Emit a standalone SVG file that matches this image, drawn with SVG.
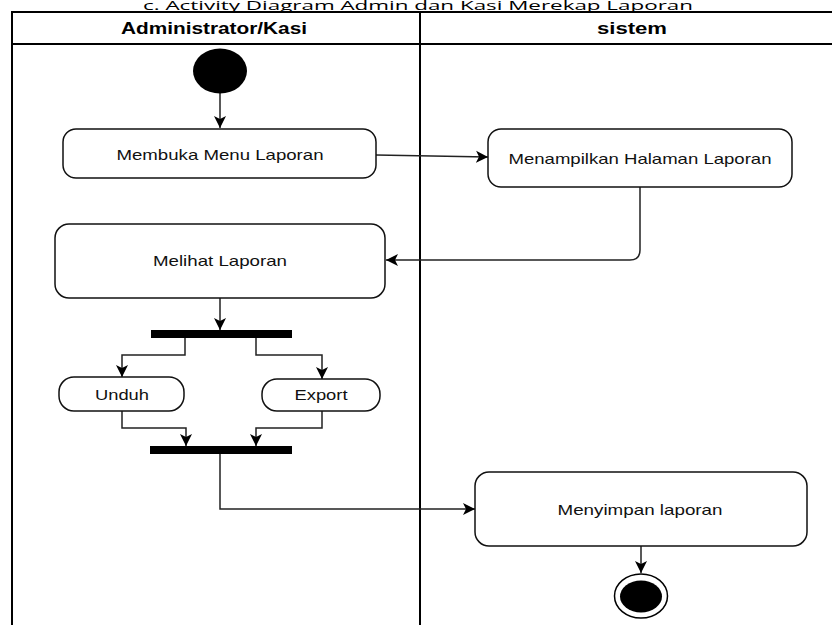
<svg xmlns="http://www.w3.org/2000/svg" width="832" height="625" viewBox="0 0 832 625">
<style>
.lane{stroke:#000;stroke-width:2;fill:none}
.node{fill:#fff;stroke:#111;stroke-width:1.5}
.lbl{font-family:"Liberation Sans",Arial,sans-serif;font-size:15px;fill:#111;text-anchor:middle}
.hdr{font-family:"Liberation Sans",Arial,sans-serif;font-size:16px;font-weight:bold;fill:#000;text-anchor:middle}
.edge{fill:none;stroke:#222;stroke-width:1.5}
.bar{fill:#000}
</style>
<defs>
<marker id="arr" markerUnits="userSpaceOnUse" markerWidth="13" markerHeight="13" viewBox="0 0 13 13" refX="12" refY="6.5" orient="auto">
<path d="M0,0.5 L12,6.5 L0,12.5 L3,6.5 z" fill="#000"/>
</marker>
</defs>
<rect width="832" height="625" fill="#fff"/>
<text x="418" y="10" font-family="'Open Sans','Noto Sans',sans-serif" font-size="13" text-anchor="middle" textLength="550" lengthAdjust="spacingAndGlyphs" fill="#000">c. Activity Diagram Admin dan Kasi Merekap Laporan</text>
<g id="swimlanes">
<path class="lane" d="M12,625 V12 H832 M12,44 H832 M420,12 V625"/>
<text class="hdr" x="214" y="34" textLength="186" lengthAdjust="spacingAndGlyphs">Administrator/Kasi</text>
<text class="hdr" x="632" y="34" textLength="70" lengthAdjust="spacingAndGlyphs">sistem</text>
</g>
<g id="connectors">
<path class="edge" d="M220,93 V128" marker-end="url(#arr)"/>
<path class="edge" d="M376,155 L488,157" marker-end="url(#arr)"/>
<path class="edge" d="M640,187 V250 Q640,260 630,260 H386" marker-end="url(#arr)"/>
<path class="edge" d="M220,298 V330" marker-end="url(#arr)"/>
<path class="edge" d="M185,338 V355 H122 V377" marker-end="url(#arr)"/>
<path class="edge" d="M256,338 V355 H322 V379" marker-end="url(#arr)"/>
<path class="edge" d="M122,411 V428 H186 V446" marker-end="url(#arr)"/>
<path class="edge" d="M322,411 V428 H256 V446" marker-end="url(#arr)"/>
<path class="edge" d="M220,454 V509 H475" marker-end="url(#arr)"/>
<path class="edge" d="M641,546 V573" marker-end="url(#arr)"/>
</g>
<g id="start">
<ellipse cx="220" cy="71" rx="27" ry="22.5" fill="#000"/>
</g>
<g id="membuka">
<rect class="node" x="63" y="129" width="313" height="49" rx="13"/>
<text class="lbl" x="220" y="160" textLength="207" lengthAdjust="spacingAndGlyphs">Membuka Menu Laporan</text>
</g>
<g id="menampilkan">
<rect class="node" x="488" y="129" width="304" height="58" rx="13"/>
<text class="lbl" x="640" y="164" textLength="263" lengthAdjust="spacingAndGlyphs">Menampilkan Halaman Laporan</text>
</g>
<g id="melihat">
<rect class="node" x="55" y="224" width="330" height="74" rx="14"/>
<text class="lbl" x="220" y="266" textLength="134" lengthAdjust="spacingAndGlyphs">Melihat Laporan</text>
</g>
<g id="fork">
<rect class="bar" x="151" y="330" width="141" height="8"/>
</g>
<g id="unduh">
<rect class="node" x="59" y="377" width="125" height="34" rx="15"/>
<text class="lbl" x="122" y="400" textLength="54" lengthAdjust="spacingAndGlyphs">Unduh</text>
</g>
<g id="export">
<rect class="node" x="262" y="379" width="118" height="32" rx="15"/>
<text class="lbl" x="321" y="400" textLength="53" lengthAdjust="spacingAndGlyphs">Export</text>
</g>
<g id="join">
<rect class="bar" x="150" y="446" width="142" height="8"/>
</g>
<g id="menyimpan">
<rect class="node" x="475" y="472" width="332" height="74" rx="14"/>
<text class="lbl" x="640" y="515" textLength="165" lengthAdjust="spacingAndGlyphs">Menyimpan laporan</text>
</g>
<g id="end">
<ellipse cx="641" cy="596" rx="26.5" ry="22" fill="#fff" stroke="#000" stroke-width="1.5"/>
<ellipse cx="641" cy="596.5" rx="21" ry="16" fill="#000"/>
</g>
</svg>
